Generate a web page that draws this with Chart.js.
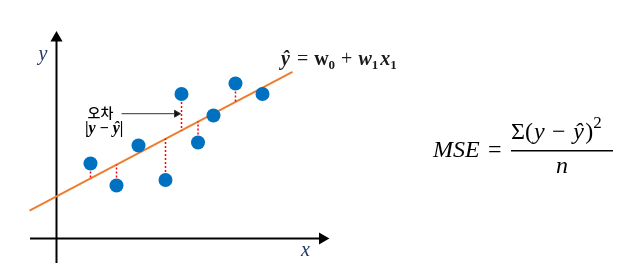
<!DOCTYPE html>
<html>
<head>
<meta charset="utf-8">
<script src="https://cdn.jsdelivr.net/npm/chart.js@4.4.0/dist/chart.umd.min.js"></script>
<style>
  body { margin: 0; background: #fff; }
  #wrap { width: 637px; height: 272px; }
</style>
</head>
<body>
<div id="wrap"><canvas id="myChart"></canvas></div>
<script>
// observations
const obsX = [3.4, 6.0, 8.2, 10.9, 12.5, 14.15, 15.7, 17.9, 20.6];
const obsY = [7.5, 5.3, 9.3, 5.85, 14.45, 9.6, 12.3, 15.5, 14.45];
// y-hat at each x
const fitY = [6.0, 7.4, 8.5, 10.0, 10.8, 11.7, 12.5, 13.65, 15.1];
// regression line ends
const lineX = [-2.7, 23.6];
const lineY = [2.78, 16.66];
// axes extents
const xAxisX = [-2.65, 26.6];
const yAxisY = [-2.45, 20.05];
// "오차" pointer
const arrowX = [6.5, 12.0];
const arrowY = [12.48, 12.48];

const residData = [];
obsX.forEach((x, i) => {
  residData.push({x: x, y: obsY[i]}, {x: x, y: fitY[i]}, {x: x, y: null});
});

const SERIF = '"Liberation Serif", "DejaVu Serif", serif';

function drawRun(ctx, pieces, x0, base) {
  let cx = x0;
  pieces.forEach(p => {
    ctx.font = p[1];
    ctx.fillText(p[0], cx, base + (p[2] || 0));
    cx += ctx.measureText(p[0]).width + (p[3] || 0);
  });
  return cx;
}

const textPlugin = {
  id: 'texts',
  afterDatasetsDraw(chart) {
    const ctx = chart.ctx;
    const xs = chart.scales.x, ys = chart.scales.y;
    const px = v => xs.getPixelForValue(v);
    const py = v => ys.getPixelForValue(v);
    ctx.save();
    ctx.textBaseline = 'alphabetic';

    // axis names
    ctx.fillStyle = '#203864';
    ctx.font = 'italic 20px ' + SERIF;
    ctx.textAlign = 'center';
    ctx.fillText('y', px(-1.35), py(17.9));
    ctx.fillText('x', px(24.9), py(-1.75));

    // model equation
    ctx.textAlign = 'left';
    ctx.fillStyle = '#1a1a1a';
    const B = 'bold 20px ' + SERIF, BI = 'bold italic 20px ' + SERIF;
    const R = '20px ' + SERIF, S = 'bold 13px ' + SERIF;
    drawRun(ctx, [
      ['ŷ', BI, 0, 2], [' = ', R, 0, 1], ['w', B], ['0', S, 4, 1], [' + ', R, 0, 1],
      ['w', BI], ['1', S, 4, 2], ['x', BI], ['1', S, 4]
    ], px(22.45), py(17.35));

    // error label
    ctx.fillStyle = '#000';
    ctx.textAlign = 'center';
    ctx.font = '500 14px "Noto Sans CJK KR", sans-serif';
    ctx.fillText('오차', px(4.4), py(12.1));
    ctx.textAlign = 'left';
    drawRun(ctx, [
      ['|', 'bold 16px ' + SERIF], ['y', 'bold italic 16px ' + SERIF],
      [' − ', 'bold 16px ' + SERIF], ['ŷ', 'bold italic 16px ' + SERIF],
      ['|', 'bold 16px ' + SERIF]
    ], px(2.85), py(10.6));

    // MSE formula
    const MI = 'italic 24px ' + SERIF, MR = '24px ' + SERIF;
    ctx.fillStyle = '#000';
    drawRun(ctx, [['MSE', MI, 0, 2]], px(37.65), py(8.15));
    ctx.font = MR;
    ctx.fillText('=', px(43.15), py(8.15));
    const fx0 = px(45.45), fx1 = px(55.65);
    drawRun(ctx, [
      ['Σ(', MR, 0, 1], ['y', MI, 0, 1.5], [' − ', MR, 0, 1.5], ['ŷ', MI, 0, 1.5], [')', MR], ['2', '17px ' + SERIF, -11]
    ], fx0, py(9.95));
    ctx.strokeStyle = '#000';
    ctx.lineWidth = 1.5;
    ctx.beginPath();
    ctx.moveTo(fx0, py(8.78));
    ctx.lineTo(fx1, py(8.78));
    ctx.stroke();
    ctx.textAlign = 'center';
    ctx.font = MI;
    ctx.fillText('n', (fx0 + fx1) / 2, py(6.55));
    ctx.restore();
  }
};

new Chart(document.getElementById('myChart'), {
  type: 'scatter',
  data: {
    datasets: [
      {
        // observed points
        data: obsX.map((x, i) => ({x: x, y: obsY[i]})),
        backgroundColor: '#0070c0',
        borderColor: '#0070c0',
        pointRadius: 7,
        borderWidth: 0,
        order: 0
      },
      {
        // residuals
        data: residData,
        showLine: true,
        borderColor: '#ff0000',
        borderWidth: 1.5,
        borderDash: [2, 2],
        pointRadius: 0,
        spanGaps: false,
        order: 1
      },
      {
        // regression line
        data: lineX.map((x, i) => ({x: x, y: lineY[i]})),
        showLine: true,
        borderColor: '#ed7d31',
        borderWidth: 2,
        pointRadius: 0,
        order: 2
      },
      {
        // x axis
        data: xAxisX.map(x => ({x: x, y: 0})),
        showLine: true,
        borderColor: '#000',
        backgroundColor: '#000',
        borderWidth: 2,
        pointStyle: 'triangle',
        pointRadius: [0, 5],
        rotation: 90,
        order: 3
      },
      {
        // y axis
        data: yAxisY.map(y => ({x: 0, y: y})),
        showLine: true,
        borderColor: '#000',
        backgroundColor: '#000',
        borderWidth: 2,
        pointStyle: 'triangle',
        pointRadius: [0, 5],
        order: 3
      },
      {
        // pointer arrow
        data: arrowX.map((x, i) => ({x: x, y: arrowY[i]})),
        showLine: true,
        borderColor: '#333',
        backgroundColor: '#111',
        borderWidth: 1,
        pointStyle: 'triangle',
        pointRadius: [0, 4],
        rotation: 90,
        order: 3
      }
    ]
  },
  options: {
    responsive: true,
    maintainAspectRatio: false,
    animation: false,
    layout: { padding: 0, autoPadding: false },
    plugins: { legend: { display: false }, tooltip: { enabled: false } },
    scales: {
      x: { type: 'linear', min: -5.65, max: 58.05, display: false },
      y: { type: 'linear', min: -3.35, max: 23.85, display: false }
    }
  },
  plugins: [textPlugin]
});
</script>
</body>
</html>
